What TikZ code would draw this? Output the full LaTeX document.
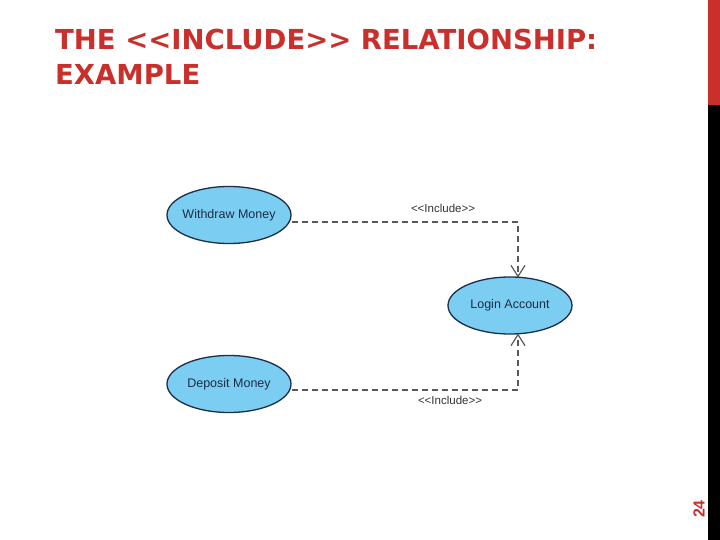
\documentclass[tikz,border=0pt]{standalone}
\usepackage{fontspec}
\setmainfont{Liberation Sans}
\newfontfamily\titlefont{DejaVu Sans}
\usetikzlibrary{shapes.geometric,arrows.meta}
\definecolor{titlered}{HTML}{C9302C}
\definecolor{ucfill}{HTML}{7CCDF2}
\definecolor{ucline}{HTML}{1C2E48}
\begin{document}
\begin{tikzpicture}[x=1pt,y=-1pt,
  usecase/.style={ellipse,draw=ucline,line width=1.3pt,fill=ucfill,minimum width=124pt,minimum height=57pt,inner ysep=0pt,inner xsep=-12pt,font=\fontsize{12.5}{14}\selectfont,text=ucline},
  incl/.style={draw=black!65,line width=1.5pt,dash pattern=on 6pt off 4pt,-{Straight Barb[length=11pt,width=14pt,line width=1.2pt]}},
  lbl/.style={font=\fontsize{11.5}{13}\selectfont,text=black!80}]
\useasboundingbox (0,0) rectangle (720,540);
\fill[white] (0,0) rectangle (720,540);
% side bar
\fill[titlered] (708,0) rectangle (720,105);
\fill[black] (708,105) rectangle (720,540);
\node[rotate=90,text=titlered,font=\bfseries\fontsize{16}{18}\selectfont] (pg) at (699,509) {24};
% title
\node[anchor=base west,align=left,text=titlered,font=\titlefont\bfseries\fontsize{27.5}{35}\selectfont,inner sep=0pt] (title) at (55,85) {THE <{}<INCLUDE>{}> RELATIONSHIP:\\EXAMPLE};
% use cases
\node[usecase] (wd) at (229,215) {Withdraw Money};
\node[usecase] (la) at (510,305.5) {Login Account};
\node[usecase] (dm) at (229,384) {Deposit Money};
\coordinate (latop) at (518,277.5);
\coordinate (labot) at (518,333.5);
\draw[incl] ([yshift=-7pt]wd.east) -| (latop);
\draw[incl] ([yshift=-6pt]dm.east) -| (labot);
\node[lbl] (l1) at (443,208) {<{}<Include>{}>};
\node[lbl] (l2) at (450,400) {<{}<Include>{}>};
\end{tikzpicture}
\end{document}
